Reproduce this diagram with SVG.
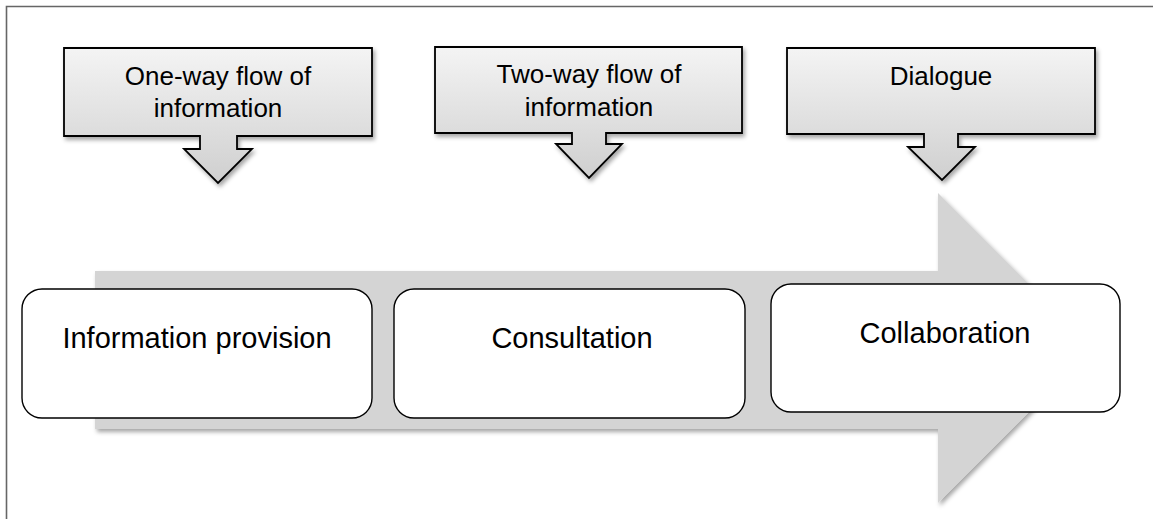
<svg xmlns="http://www.w3.org/2000/svg" width="1153" height="519" viewBox="0 0 1153 519">
<defs>
<linearGradient id="cg" x1="0" y1="0" x2="0" y2="1">
<stop offset="0" stop-color="#f4f4f4"/>
<stop offset="1" stop-color="#cfcfcf"/>
</linearGradient>
<filter id="sh" x="-10%" y="-10%" width="130%" height="140%">
<feDropShadow dx="2" dy="3" stdDeviation="2" flood-color="#000" flood-opacity="0.35"/>
</filter>
</defs>
<style>
.callout{fill:url(#cg);stroke:#000;stroke-width:1.8;filter:url(#sh)}
.box{fill:#fff;stroke:#000;stroke-width:1.4}
.t{font-family:"Liberation Sans",Arial,sans-serif;fill:#000;text-anchor:middle}
.ct{font-size:26px}
.bt{font-size:29px}
</style>
<rect width="1153" height="519" fill="#fff"/>
<path d="M1153,6.5 H6.5 V519" fill="none" stroke="#666" stroke-width="1.6"/>
<g id="connectors">
<polygon id="bigArrow" points="95,271 938,271 938,193 1093,348 938,503 938,429 95,429" fill="#d4d4d4" filter="url(#sh)"/>
</g>
<g id="callout1">
<path class="callout" d="M64,48 H372 V136 H237 V149 H252 L218,183 L184,149 H200 V136 H64 Z"/>
<text class="t ct" x="218" y="85">One-way flow of</text>
<text class="t ct" x="218" y="117">information</text>
</g>
<g id="callout2">
<path class="callout" d="M435,47 H742 V133 H606 V144 H622 L589,178 L556,144 H572 V133 H435 Z"/>
<text class="t ct" x="589" y="83">Two-way flow of</text>
<text class="t ct" x="589" y="116">information</text>
</g>
<g id="callout3">
<path class="callout" d="M787,48 H1095 V134 H958 V147 H975 L942,180 L908,147 H924 V134 H787 Z"/>
<text class="t ct" x="941" y="85">Dialogue</text>
</g>
<g id="box1">
<rect class="box" x="22" y="289" width="350" height="129" rx="20"/>
<text class="t bt" x="197" y="348">Information provision</text>
</g>
<g id="box2">
<rect class="box" x="394" y="289" width="351" height="129" rx="20"/>
<text class="t bt" x="572" y="348">Consultation</text>
</g>
<g id="box3">
<rect class="box" x="771" y="284" width="349" height="128" rx="20"/>
<text class="t bt" x="945" y="343">Collaboration</text>
</g>
</svg>
